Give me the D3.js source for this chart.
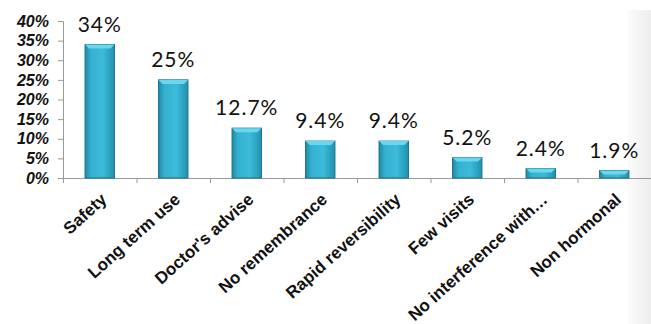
<!DOCTYPE html>
<html>
<head>
<script src="https://d3js.org/d3.v7.min.js"></script>
<style>
  body { margin: 0; background: #fff; }
  .ytick text { font-family: "Liberation Sans", Arial, sans-serif; font-weight: bold; font-style: italic; font-size: 16px; fill: #111; }
  .xlab { font-family: "Liberation Sans", Arial, sans-serif; font-weight: bold; font-size: 17px; fill: #111; }
  .val { font-family: Lato, "Open Sans", sans-serif; font-size: 21px; letter-spacing: 1px; fill: #111; }
</style>
</head>
<body>
<script>
// data
var categories = ["Safety", "Long term use", "Doctor's advise", "No remembrance",
                  "Rapid reversibility", "Few visits", "No interference with\u2026", "Non hormonal"];
var values = [34, 25, 12.7, 9.4, 9.4, 5.2, 2.4, 1.9];
var valueLabels = ["34%", "25%", "12.7%", "9.4%", "9.4%", "5.2%", "2.4%", "1.9%"];
var yTicks = [0, 5, 10, 15, 20, 25, 30, 35, 40];

var W = 651, H = 324;
var margin = {top: 21, right: 0, bottom: 146, left: 63};
var width = W - margin.left - margin.right,
    height = H - margin.top - margin.bottom;

var svg = d3.select("body").append("svg")
    .attr("width", W).attr("height", H);

// light grey strip on the right edge
var defs = svg.append("defs");
var sg = defs.append("linearGradient").attr("id", "strip").attr("x1", 0).attr("x2", 1);
sg.append("stop").attr("offset", 0).attr("stop-color", "#fbfbfb");
sg.append("stop").attr("offset", 1).attr("stop-color", "#eeeeee");
svg.append("rect").attr("x", 628).attr("y", 10).attr("width", 23).attr("height", H - 10)
    .attr("fill", "url(#strip)");

var bg = defs.append("linearGradient").attr("id", "bar").attr("x1", 0).attr("x2", 1);
bg.append("stop").attr("offset", 0).attr("stop-color", "#1f8aa6");
bg.append("stop").attr("offset", 0.2).attr("stop-color", "#35b0d0");
bg.append("stop").attr("offset", 0.6).attr("stop-color", "#3cbbdb");
bg.append("stop").attr("offset", 1).attr("stop-color", "#2291b0");

var g = svg.append("g").attr("transform", "translate(" + margin.left + "," + margin.top + ")");

var x = d3.scaleBand().domain(categories).range([0, width]).paddingInner(0.6).paddingOuter(0.3);
var y = d3.scaleLinear().domain([0, 40]).range([height, 0]);

// y axis
var yAxis = g.append("g").attr("class", "ytick")
    .call(d3.axisLeft(y).tickValues(yTicks).tickSize(5).tickFormat(function(d) { return d + "%"; }));
yAxis.select(".domain").attr("stroke", "#999");
yAxis.selectAll(".tick line").attr("stroke", "#999");
yAxis.selectAll(".tick text").attr("x", -14);

// x axis: ticks at category boundaries
var xb = d3.scaleLinear().domain([0, categories.length]).range([0, width]);
var xAxis = g.append("g").attr("transform", "translate(0," + height + ")")
    .call(d3.axisBottom(xb).tickValues(d3.range(0, categories.length + 1)).tickSize(5).tickFormat(""));
xAxis.select(".domain").attr("stroke", "#999");
xAxis.selectAll(".tick line").attr("stroke", "#999");

// bars
g.selectAll(".bar").data(values).enter().append("rect")
    .attr("class", "bar")
    .attr("x", function(d, i) { return x(categories[i]); })
    .attr("y", function(d) { return y(d); })
    .attr("width", x.bandwidth())
    .attr("height", function(d) { return height - y(d); })
    .attr("fill", "url(#bar)")
    .attr("stroke", "#1d7188").attr("stroke-width", 1);

// top bevel
g.selectAll(".bevel").data(values).enter().append("path")
    .attr("d", function(d, i) {
        var x0 = x(categories[i]), w = x.bandwidth(), t = y(d), b = 4;
        return "M" + x0 + "," + t + "L" + (x0 + w) + "," + t + "L" + (x0 + w - b) + "," + (t + b) + "L" + (x0 + b) + "," + (t + b) + "Z";
    })
    .attr("fill", "#6ad6ef").attr("stroke", "none");

// value labels
g.selectAll(".val").data(values).enter().append("text")
    .attr("class", "val")
    .attr("x", function(d, i) { return x(categories[i]) + x.bandwidth() / 2; })
    .attr("y", function(d) { return y(d) - 13; })
    .attr("text-anchor", "middle")
    .text(function(d, i) { return valueLabels[i]; });

// category labels
g.selectAll(".xlab").data(categories).enter().append("text")
    .attr("class", "xlab")
    .attr("text-anchor", "end")
    .attr("transform", function(d) {
        return "translate(" + (x(d) + x.bandwidth() / 2 + 8) + "," + (height + 23) + ") rotate(-42)";
    })
    .text(function(d) { return d; });
</script>
</body>
</html>
